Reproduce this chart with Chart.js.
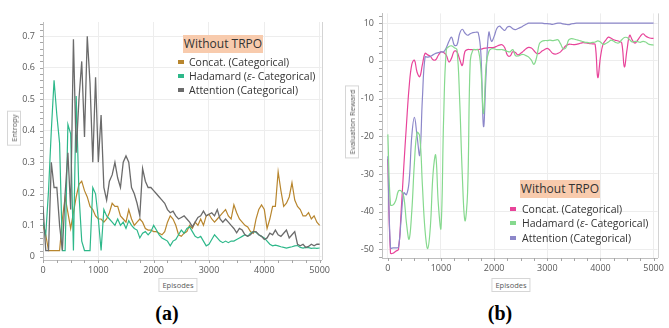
<!DOCTYPE html>
<html><head><meta charset="utf-8">
<script src="https://cdn.jsdelivr.net/npm/chart.js@4"></script>
<style>
body{margin:0;background:#fff;width:669px;height:328px;overflow:hidden;position:relative;font-family:"Open Sans",sans-serif;color:#333}
.abs{position:absolute}
.tbox{position:absolute;background:#F8CBAD;font-size:12px;line-height:18px;text-align:center;color:#333}
.leg{position:absolute;font-size:10.5px;line-height:12px;white-space:nowrap;color:#333}
.mk{position:absolute;width:6px;height:4px}
.axt{position:absolute;font-size:7.5px;color:#595959;border:1px solid #d6d6d6;padding:1px 3px;background:#fff;white-space:nowrap}
.fig{position:absolute;font-family:"Liberation Serif",serif;font-weight:bold;font-size:20px;color:#000}
</style></head><body>
<div class="abs" style="left:0;top:0;width:335px;height:300px"><canvas id="ca"></canvas></div>
<div class="abs" style="left:340px;top:0;width:329px;height:300px"><canvas id="cb"></canvas></div>

<div class="tbox" style="left:183px;top:35px;width:80px;height:18px">Without TRPO</div>
<div class="mk" style="left:178px;top:60px;background:#B8862E"></div><div class="leg" style="left:189px;top:56px">Concat. (Categorical)</div>
<div class="mk" style="left:178px;top:74px;background:#2EB88A"></div><div class="leg" style="left:189px;top:70px">Hadamard (<i>ε</i>- Categorical)</div>
<div class="mk" style="left:178px;top:88px;background:#6b6b6b"></div><div class="leg" style="left:189px;top:84px">Attention (Categorical)</div>

<div class="tbox" style="left:520px;top:180px;width:80px;height:18px">Without TRPO</div>
<div class="mk" style="left:510px;top:207px;background:#E8449A"></div><div class="leg" style="left:522px;top:203px">Concat. (Categorical)</div>
<div class="mk" style="left:510px;top:221px;background:#86D98E"></div><div class="leg" style="left:522px;top:217px">Hadamard (<i>ε</i>- Categorical)</div>
<div class="mk" style="left:510px;top:236px;background:#8C87C9"></div><div class="leg" style="left:522px;top:232px">Attention (Categorical)</div>

<div class="axt" style="left:14px;top:128px;transform:translate(-50%,-50%) rotate(-90deg)">Entropy</div>
<div class="axt" style="left:352px;top:122px;transform:translate(-50%,-50%) rotate(-90deg)">Evaluation Reward</div>
<div class="axt" style="left:178px;top:285px;transform:translate(-50%,-50%)">Episodes</div>
<div class="axt" style="left:511px;top:285px;transform:translate(-50%,-50%)">Episodes</div>
<div class="fig" style="left:167px;top:313px;transform:translate(-50%,-50%)">(a)</div>
<div class="fig" style="left:500px;top:313px;transform:translate(-50%,-50%)">(b)</div>

<script>
const episodes = [0,50,100,150,200,250,300,350,400,450,500,550,600,650,700,750,800,850,900,950,
1000,1050,1100,1150,1200,1250,1300,1350,1400,1450,1500,1550,1600,1650,1700,1750,1800,1850,1900,1950,
2000,2050,2100,2150,2200,2250,2300,2350,2400,2450,2500,2550,2600,2650,2700,2750,2800,2850,2900,2950,
3000,3050,3100,3150,3200,3250,3300,3350,3400,3450,3500,3550,3600,3650,3700,3750,3800,3850,3900,3950,
4000,4050,4100,4150,4200,4250,4300,4350,4400,4450,4500,4550,4600,4650,4700,4750,4800,4850,4900,4950,5000];

const entropyConcat = [0.10,0.07,0.02,0.02,0.02,0.02,0.02,0.12,0.19,0.14,
 0.09,0.14,0.19,0.23,0.24,0.21,0.19,0.16,0.15,0.13,
 0.12,0.12,0.11,0.12,0.14,0.17,0.16,0.16,0.13,0.12,
 0.11,0.15,0.12,0.10,0.11,0.12,0.11,0.09,0.085,0.085,
 0.08,0.08,0.075,0.07,0.08,0.11,0.13,0.12,0.10,0.07,
 0.065,0.075,0.08,0.10,0.09,0.11,0.10,0.12,0.10,0.13,
 0.135,0.12,0.11,0.12,0.13,0.14,0.15,0.13,0.12,0.165,
 0.14,0.12,0.11,0.10,0.095,0.08,0.075,0.12,0.15,0.165,
 0.15,0.09,0.12,0.16,0.16,0.27,0.21,0.16,0.17,0.19,
 0.235,0.18,0.16,0.15,0.13,0.13,0.14,0.12,0.13,0.11,
 0.10];
const entropyHadamard = [0.11,0.07,0.21,0.40,0.56,0.45,0.36,0.02,0.02,0.42,
 0.39,0.02,0.51,0.20,0.05,0.02,0.02,0.02,0.22,0.20,
 0.12,0.02,0.15,0.13,0.12,0.11,0.10,0.12,0.10,0.11,
 0.09,0.115,0.10,0.09,0.085,0.06,0.075,0.08,0.07,0.08,
 0.10,0.085,0.07,0.06,0.055,0.05,0.035,0.05,0.055,0.07,
 0.085,0.075,0.09,0.095,0.08,0.065,0.06,0.065,0.05,0.035,
 0.04,0.055,0.07,0.06,0.05,0.045,0.05,0.045,0.05,0.05,
 0.055,0.06,0.065,0.07,0.065,0.075,0.08,0.078,0.07,0.065,
 0.06,0.05,0.04,0.035,0.037,0.035,0.032,0.03,0.028,0.03,
 0.032,0.035,0.036,0.03,0.028,0.03,0.029,0.027,0.028,0.027,
 0.028];
const entropyAttention = [0.16,0.02,0.02,0.30,0.22,0.22,0.10,0.02,0.20,0.33,
 0.15,0.69,0.33,0.50,0.62,0.38,0.70,0.55,0.30,0.57,
 0.30,0.45,0.22,0.18,0.24,0.26,0.30,0.25,0.22,0.30,
 0.32,0.30,0.22,0.20,0.17,0.13,0.28,0.24,0.22,0.22,
 0.21,0.20,0.19,0.18,0.17,0.15,0.14,0.145,0.13,0.12,
 0.125,0.13,0.12,0.11,0.095,0.11,0.125,0.13,0.145,0.13,
 0.135,0.14,0.13,0.15,0.12,0.11,0.12,0.11,0.10,0.09,
 0.076,0.09,0.085,0.07,0.065,0.07,0.08,0.08,0.07,0.065,
 0.055,0.06,0.075,0.07,0.085,0.07,0.065,0.075,0.085,0.06,
 0.07,0.08,0.04,0.035,0.04,0.03,0.033,0.04,0.035,0.04,
 0.04];

const rewardConcat = [-26,-51,-51,-50.5,-50,-40,-28,-17,-7,-1,
 0.2,-3,-4.2,-1,2,1.6,1.2,0.3,0.3,1.5,
 2.4,2.2,1.5,-0.3,0.8,2.6,2.4,0.5,-1.2,2.5,
 3,3,3,3,3,3.1,3.3,3.4,3.5,3.5,
 3.6,3.9,4.2,4.3,3.5,1.5,1.3,2.4,2.2,1.6,
 2,2.6,3.2,3.6,3.4,2.7,2,2,2.6,3,
 3.3,2.8,2,1.8,2,2.4,3.2,4,4.4,4.4,
 4.3,4.4,4.6,4.8,4.8,4.7,4.6,4.5,4.4,-4.4,
 1,4.5,5.5,6.3,6,5.6,5.4,5.2,4.8,-1.6,
 3,6.8,5.5,4.7,5.5,6.5,7.2,6.6,6.2,6,
 6];
const rewardHadamard = [-19.5,-38.2,-38.2,-37,-34.5,-34.5,-36,-43,-47.3,-40,
 -27,-19,-20,-33,-45,-49.8,-44,-30,-25,-38,
 -44.4,-15,3,3.8,4,3.5,3,-10,-30,-42.4,
 -35,0,2.9,3,2.9,-2,-14,-1,2.5,3.2,
 3.2,3,3,3,2.8,2.5,2.4,3,1.4,1.3,
 1.6,1.7,1.4,1,0.2,-0.9,1,4.5,5.2,5.4,
 5.4,5.5,5.4,5.5,5.6,4.5,3.2,3.5,5.5,5.9,
 5.8,5.6,5.4,5.2,5,4.9,4.8,4.9,5,5.3,
 5,4.4,4.6,5,5.5,5.2,4.8,4.8,5.6,6.2,
 6.2,5.6,5,5.2,5.1,4.9,5.2,5,4.5,4.3,
 4.2];
const rewardAttention = [-25.3,-49.6,-49.6,-49.6,-49.4,-42,-35,-35.5,-32,-20,
 -15,-20,-25,-10,1,1,1.2,1.6,2,2.2,
 2.4,2.4,3.5,5.2,6.3,4.2,4.2,7.2,8.4,7.4,
 6.8,7.2,7.5,7.6,7.5,2,-17.4,-3,7.6,5.2,
 6.5,8.6,9.2,8.6,8.1,9,9.1,8.5,8.3,8.6,
 8.9,9.3,9.7,10,10,10,10,10,10,9.9,
 9.9,9.8,9.7,9.9,10,10,9.8,9.7,9.6,9.8,
 9.9,10,10,10,10,10,10,10,10,10,
 10,10,10,10,10,10,10,10,10,10,
 10,10,10,10,10,10,10,10,10,10,
 10];

const xTicks = [0,1000,2000,3000,4000,5000];
const entropyTicks = [0,0.1,0.2,0.3,0.4,0.5,0.6,0.7];
const rewardTicks = [10,0,-10,-20,-30,-40,-50];

function pts(ys){ return ys.map((y,i)=>({x:episodes[i], y:y})); }
const tickFont = {family:"'Open Sans', sans-serif", size:9};
const gridCol = '#ededed', axisCol = '#bfbfbf', tickCol = '#595959';

// draws the plot frame's right edge and small minor tick marks along both axes
const framePlugin = {
  id:'frame',
  afterDraw(chart, args, opts){
    const {ctx, chartArea:a, scales:{x, y}} = chart;
    ctx.save();
    ctx.strokeStyle = '#d4d4d4'; ctx.lineWidth = 1;
    ctx.beginPath(); ctx.moveTo(Math.round(a.right)+0.5, a.top); ctx.lineTo(Math.round(a.right)+0.5, a.bottom); ctx.stroke();
    ctx.strokeStyle = '#a6a6a6';
    ctx.beginPath();
    for (let v = opts.ymin; v <= y.max + 1e-9; v += opts.ystep) {
      const py = Math.round(y.getPixelForValue(v)) + 0.5;
      if (py < a.top || py > a.bottom) continue;
      ctx.moveTo(a.left - 3, py); ctx.lineTo(a.left, py);
    }
    for (let v = 0; v <= x.max; v += opts.xstep) {
      const px = Math.round(x.getPixelForValue(v)) + 0.5;
      ctx.moveTo(px, a.bottom); ctx.lineTo(px, a.bottom + 3);
    }
    ctx.stroke();
    ctx.restore();
  }
};

function makeChart(id, sets, yTicks, ymin, ymax, xmin, xmax, pad, yw, xh, tension, minor){
  return new Chart(document.getElementById(id), {
    type:'line',
    data:{datasets: sets.map(s=>({label:s.label, data:pts(s.data), borderColor:s.color, borderWidth:s.w||1.2,
      pointRadius:0, fill:false, tension:tension}))},
    plugins:[framePlugin],
    options:{
      responsive:true, maintainAspectRatio:false, animation:false,
      layout:{padding:pad},
      plugins:{legend:{display:false}, tooltip:{enabled:false}, frame:minor},
      scales:{
        x:{type:'linear', min:xmin, max:xmax,
          afterBuildTicks:s=>{s.ticks = xTicks.map(v=>({value:v}));},
          afterFit:s=>{s.height = xh;},
          grid:{color:gridCol, drawTicks:false},
          border:{color:axisCol},
          ticks:{font:tickFont, color:tickCol, padding:5, maxRotation:0, autoSkip:false, callback:v=>String(v)}},
        y:{type:'linear', min:ymin, max:ymax,
          afterBuildTicks:s=>{s.ticks = yTicks.map(v=>({value:v}));},
          afterFit:s=>{s.width = yw;},
          grid:{color:gridCol, drawTicks:false},
          border:{color:axisCol},
          ticks:{font:tickFont, color:tickCol, padding:8, autoSkip:false, callback:v=>String(v)}}
      }
    }
  });
}

makeChart('ca', [
  {label:'Attention (Categorical)', data:entropyAttention, color:'#6b6b6b', w:1.3},
  {label:'Hadamard (ε- Categorical)', data:entropyHadamard, color:'#2EB88A'},
  {label:'Concat. (Categorical)', data:entropyConcat, color:'#B8862E'}
], entropyTicks, -0.01, 0.745, 0, 5035, {left:0, top:22, right:10, bottom:0}, 43, 40, 0,
   {ymin:0, ystep:0.02, xstep:250});

makeChart('cb', [
  {label:'Hadamard (ε- Categorical)', data:rewardHadamard, color:'#86D98E'},
  {label:'Attention (Categorical)', data:rewardAttention, color:'#8C87C9'},
  {label:'Concat. (Categorical)', data:rewardConcat, color:'#E8449A'}
], rewardTicks, -52.3, 12.6, -110, 5075, {left:0, top:7, right:7, bottom:0}, 42, 42, 0.4,
   {ymin:-52, ystep:2, xstep:250});
</script>
</body></html>
